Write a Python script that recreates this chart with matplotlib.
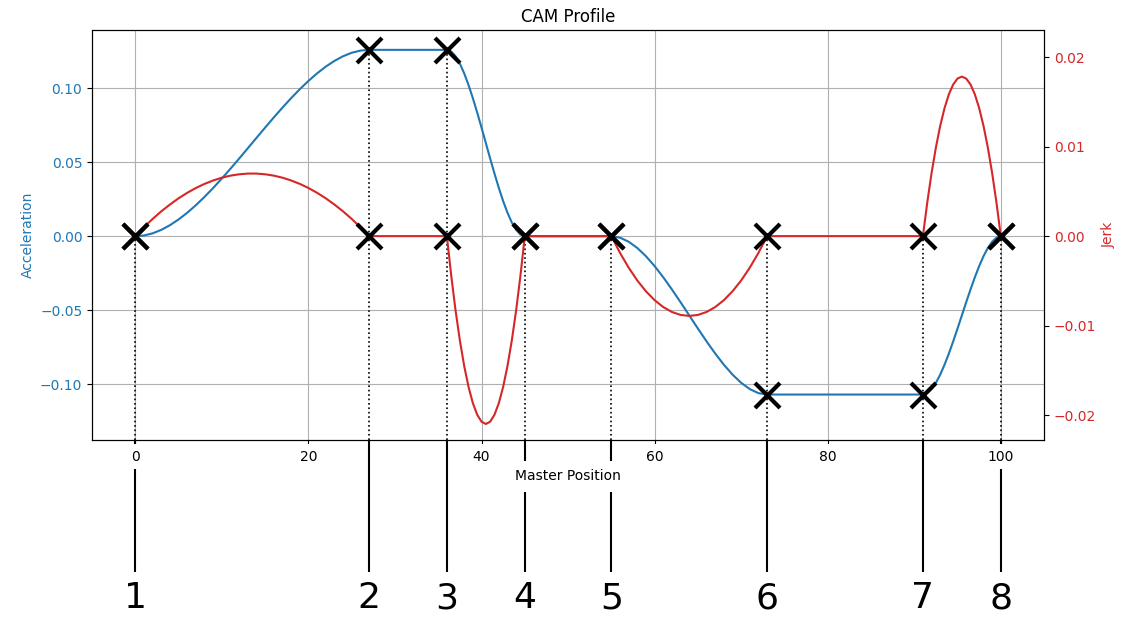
import matplotlib
matplotlib.use("Agg")
import matplotlib.pyplot as plt

# Key points of the cam (master position) and their labels
key_pos = [0, 27, 36, 45, 55, 73, 91, 100]
key_acc = [0.0, 0.126, 0.126, 0.0, 0.0, -0.107, -0.107, 0.0]
key_jerk = [0.0, 0.0, 0.0, 0.0, 0.0, 0.0, 0.0, 0.0]
key_labels = ["1", "2", "3", "4", "5", "6", "7", "8"]

# Sampled profile: master position, acceleration, jerk
master_pos = [
    # rise 0 -> 27
    0, 1, 2, 3, 4, 5, 6, 7, 8, 9, 10, 11, 12, 13, 14, 15, 16, 17, 18, 19,
    20, 21, 22, 23, 24, 25, 26, 27,
    # fall 36 -> 45
    36.0, 36.5, 37.0, 37.5, 38.0, 38.5, 39.0, 39.5, 40.0, 40.5,
    41.0, 41.5, 42.0, 42.5, 43.0, 43.5, 44.0, 44.5, 45.0,
    # fall 55 -> 73
    55, 56, 57, 58, 59, 60, 61, 62, 63, 64, 65, 66, 67, 68, 69, 70, 71, 72, 73,
    # rise 91 -> 100
    91.0, 91.5, 92.0, 92.5, 93.0, 93.5, 94.0, 94.5, 95.0, 95.5,
    96.0, 96.5, 97.0, 97.5, 98.0, 98.5, 99.0, 99.5, 100.0,
]
accel = [
    0.0, 0.00051, 0.00197, 0.00432, 0.00748, 0.01136, 0.01590, 0.02102, 0.02663, 0.03267,
    0.03905, 0.04570, 0.05254, 0.05950, 0.06650, 0.07346, 0.08030, 0.08695, 0.09333, 0.09937,
    0.10498, 0.11010, 0.11464, 0.11852, 0.12168, 0.12403, 0.12549, 0.126,
    0.126, 0.12488, 0.12168, 0.11667, 0.11010, 0.10223, 0.09333, 0.08365, 0.07346, 0.0630,
    0.05254, 0.04235, 0.03267, 0.02377, 0.01590, 0.00933, 0.00432, 0.00112, 0.0,
    0.0, -0.00095, -0.00367, -0.00793, -0.01350, -0.02018, -0.02774, -0.03596, -0.04462, -0.0535,
    -0.06238, -0.07104, -0.07926, -0.08682, -0.09350, -0.09907, -0.10333, -0.10605, -0.107,
    -0.107, -0.10605, -0.10333, -0.09907, -0.09350, -0.08682, -0.07926, -0.07104, -0.06238, -0.0535,
    -0.04462, -0.03596, -0.02774, -0.02018, -0.01350, -0.00793, -0.00367, -0.00095, 0.0,
]
jerk = [
    0.0, 0.00100, 0.00192, 0.00277, 0.00353, 0.00423, 0.00484, 0.00538, 0.00584, 0.00622,
    0.00653, 0.00676, 0.00691, 0.00699, 0.00699, 0.00691, 0.00676, 0.00653, 0.00622, 0.00584,
    0.00538, 0.00484, 0.00423, 0.00353, 0.00277, 0.00192, 0.00100, 0.0,
    0.0, -0.00441, -0.00830, -0.01167, -0.01452, -0.01685, -0.01867, -0.01996, -0.02074, -0.0210,
    -0.02074, -0.01996, -0.01867, -0.01685, -0.01452, -0.01167, -0.00830, -0.00441, 0.0,
    0.0, -0.00187, -0.00352, -0.00496, -0.00617, -0.00716, -0.00793, -0.00848, -0.00881, -0.00892,
    -0.00881, -0.00848, -0.00793, -0.00716, -0.00617, -0.00496, -0.00352, -0.00187, 0.0,
    0.0, 0.00374, 0.00704, 0.00991, 0.01233, 0.01431, 0.01585, 0.01695, 0.01761, 0.01783,
    0.01761, 0.01695, 0.01585, 0.01431, 0.01233, 0.00991, 0.00704, 0.00374, 0.0,
]

fig = plt.figure(figsize=(11.28, 6.19), dpi=100)

# Strip under the plot with the numbered key-point lines
ax_low = fig.add_axes([0.0816, 0.0, 0.844, 0.289], zorder=-1)
ax_low.set_xlim(-5, 105)
ax_low.set_ylim(0, 1)
ax_low.axis("off")
ax_low.vlines(key_pos, 0.263, 1.0, color="black", linewidth=1.5)
for p, lab in zip(key_pos, key_labels):
    ax_low.text(p, 0.117, lab, ha="center", va="center", fontsize=26)

ax1 = fig.add_axes([0.0816, 0.289, 0.844, 0.662])
ax1.plot(master_pos, accel, color="tab:blue", linewidth=1.5)
ax1.set_xlim(-5, 105)
ax1.set_ylim(-0.1378, 0.1392)
ax1.set_xlabel("Master Position")
ax1.set_ylabel("Acceleration", color="tab:blue")
ax1.tick_params(axis="y", labelcolor="tab:blue")
ax1.grid(True)
ax1.set_title("CAM Profile")

# dotted drop lines from each key point to the bottom of the plot
tops = [max(a, 0.0) for a in key_acc]
ax1.vlines(key_pos, -0.1378, tops, color="black", linestyle=":", linewidth=1.2)

for lab in ax1.get_xticklabels():
    lab.set_bbox(dict(facecolor="white", edgecolor="none", pad=4))
ax1.xaxis.label.set_bbox(dict(facecolor="white", edgecolor="none", pad=6))

ax2 = ax1.twinx()
ax2.plot(master_pos, jerk, color="tab:red", linewidth=1.5)
ax2.set_ylabel("Jerk", color="tab:red")
ax2.tick_params(axis="y", labelcolor="tab:red")

# key point markers on top of both curves
ax2.plot(key_pos, key_jerk, "x", color="black", markersize=18, mew=3)
ax2.plot(key_pos, key_acc, "x", color="black", markersize=18, mew=3,
         transform=ax1.transData)
ax2.set_ylim(-0.0228, 0.0230)

fig.savefig("out.png", dpi=100)
